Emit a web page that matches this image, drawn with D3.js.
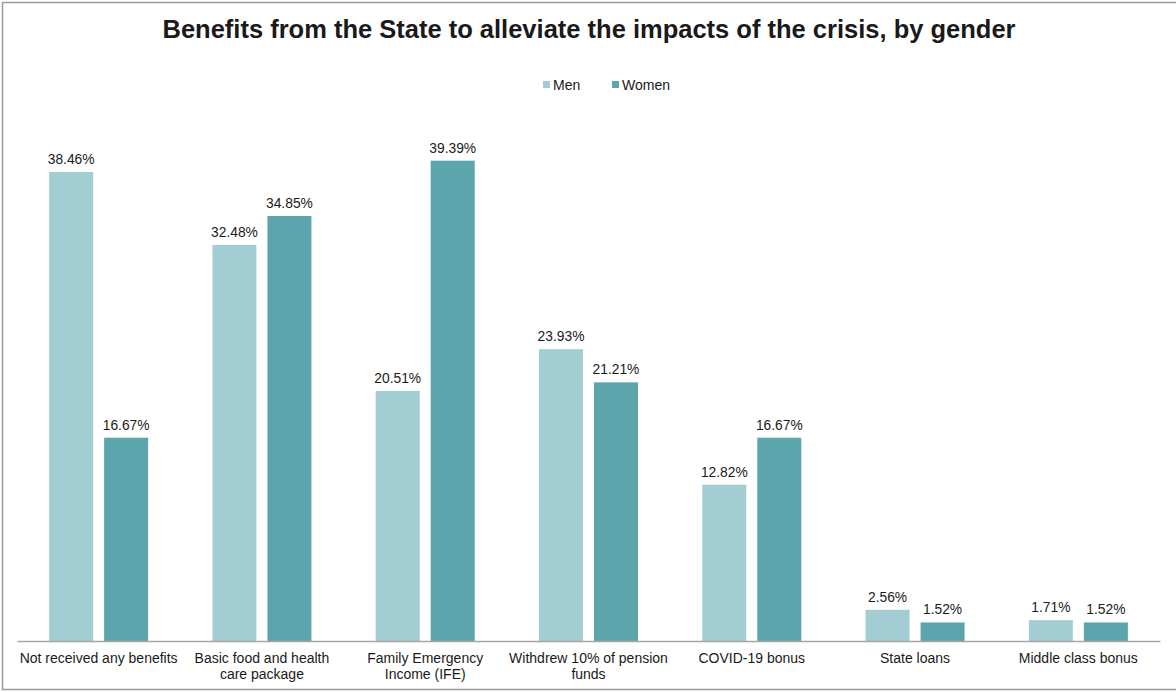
<!DOCTYPE html>
<html>
<head>
<meta charset="utf-8">
<script src="https://cdn.jsdelivr.net/npm/d3@7"></script>
<style>
  html, body { margin: 0; padding: 0; background: #fff; }
  svg { display: block; }
  text { font-family: "Liberation Sans", Arial, sans-serif; fill: #1a1a1a; }
</style>
</head>
<body>
<svg id="chart" width="1176" height="692"></svg>
<script>
// Benefits received, share of respondents (%) by gender
const categories = [
  ["Not received any benefits"],
  ["Basic food and health", "care package"],
  ["Family Emergency", "Income (IFE)"],
  ["Withdrew 10% of pension", "funds"],
  ["COVID-19 bonus"],
  ["State loans"],
  ["Middle class bonus"]
];
const seriesNames = ["Men", "Women"];
const men   = [38.46, 32.48, 20.51, 23.93, 12.82, 2.56, 1.71];
const women = [16.67, 34.85, 39.39, 21.21, 16.67, 1.52, 1.52];
const colors = ["#a2cdd3", "#5ca5ac"];

const svg = d3.select("#chart");
const W = 1176, H = 692;

// outer frame (top, left, bottom)
svg.append("path")
  .attr("d", `M${W},2.5 H2.5 V${H - 2.5} H${W}`)
  .attr("fill", "none")
  .attr("stroke", "#9a9a9a")
  .attr("stroke-width", 1.5);

// title
svg.append("text")
  .attr("x", 589).attr("y", 38)
  .attr("text-anchor", "middle")
  .attr("font-size", 25.5)
  .attr("font-weight", "bold")
  .attr("fill", "#000")
  .text("Benefits from the State to alleviate the impacts of the crisis, by gender");

// legend
const legend = svg.append("g");
const legendX = [543, 612];
seriesNames.forEach((name, i) => {
  legend.append("rect")
    .attr("x", legendX[i]).attr("y", 81)
    .attr("width", 7).attr("height", 7)
    .attr("fill", colors[i]);
  legend.append("text")
    .attr("x", legendX[i] + 10).attr("y", 89.5)
    .attr("font-size", 14)
    .text(name);
});

// scales
const x0 = d3.scaleBand()
  .domain(d3.range(categories.length))
  .range([17, 1160])
  .paddingInner(0)
  .paddingOuter(0);
const groupW = 99;
const x1 = d3.scaleBand()
  .domain(seriesNames)
  .range([0, groupW])
  .paddingInner(0.2);
const y = d3.scaleLinear()
  .domain([0, 45])
  .range([641, 641 - 45 * 12.194]);

const data = categories.map((c, i) => ({ i, values: [men[i], women[i]] }));

const groups = svg.append("g")
  .selectAll("g")
  .data(data)
  .join("g")
  .attr("transform", d => `translate(${x0(d.i) + (x0.bandwidth() - groupW) / 2},0)`);

groups.selectAll("rect")
  .data(d => d.values.map((v, k) => ({ v, k })))
  .join("rect")
  .attr("x", d => x1(seriesNames[d.k]))
  .attr("width", x1.bandwidth())
  .attr("y", d => y(d.v))
  .attr("height", d => y(0) - y(d.v))
  .attr("fill", d => colors[d.k]);

groups.selectAll("text.val")
  .data(d => d.values.map((v, k) => ({ v, k })))
  .join("text")
  .attr("class", "val")
  .attr("x", d => x1(seriesNames[d.k]) + x1.bandwidth() / 2)
  .attr("y", d => y(d.v) - 8)
  .attr("text-anchor", "middle")
  .attr("font-size", 13.8)
  .text(d => d.v.toFixed(2) + "%");

// category axis
const xAxis = svg.append("g")
  .attr("transform", `translate(0,${y(0)})`)
  .call(d3.axisBottom(x0).tickSize(0).tickFormat(""));
xAxis.select(".domain").attr("stroke", "#a6a6a6").attr("stroke-width", 1.5);

const labels = svg.append("g")
  .selectAll("text")
  .data(categories)
  .join("text")
  .attr("x", (d, i) => x0(i) + x0.bandwidth() / 2)
  .attr("y", 662.5)
  .attr("text-anchor", "middle")
  .attr("font-size", 14);
labels.selectAll("tspan")
  .data(d => d)
  .join("tspan")
  .attr("x", function () { return d3.select(this.parentNode).attr("x"); })
  .attr("dy", (d, j) => j === 0 ? 0 : 16)
  .text(d => d);
</script>
</body>
</html>
